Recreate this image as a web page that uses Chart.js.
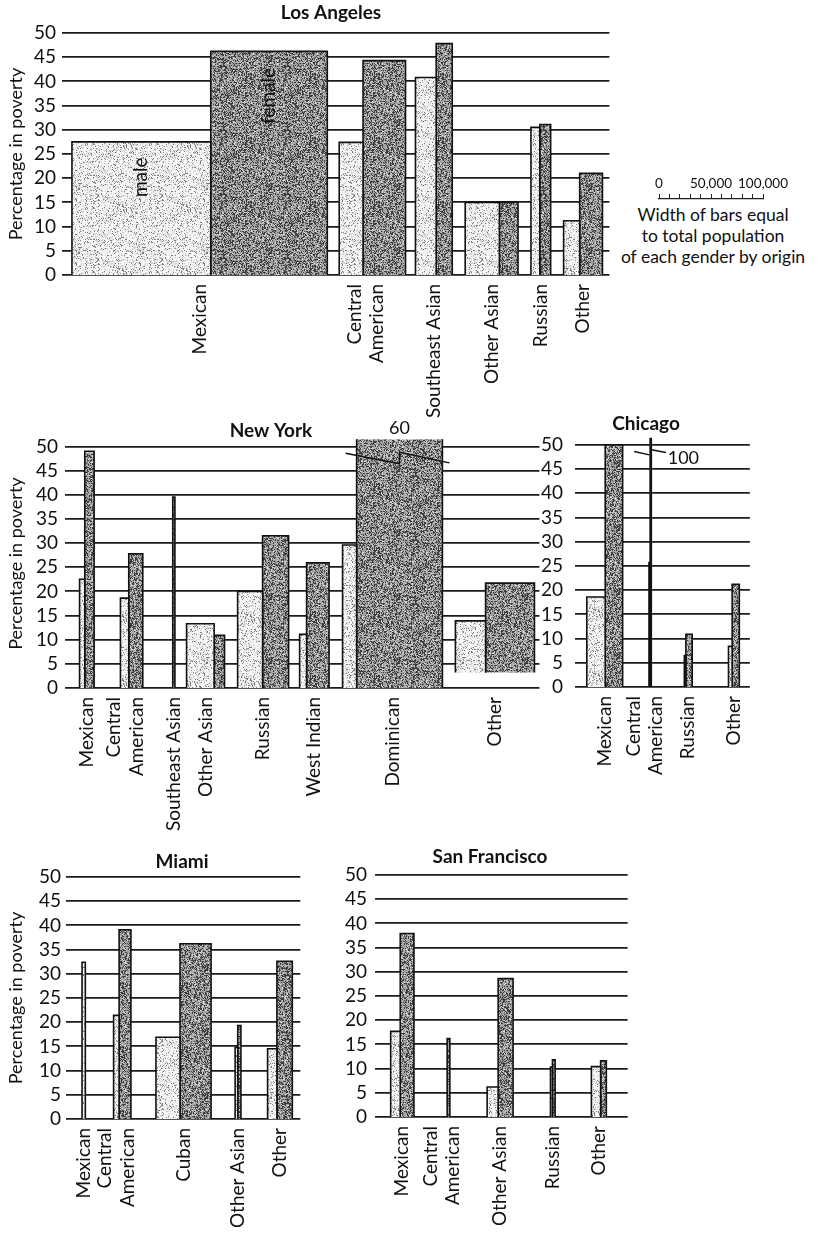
<!DOCTYPE html>
<html>
<head>
<meta charset="utf-8">
<title>Poverty by gender and origin</title>
<script src="https://cdn.jsdelivr.net/npm/chart.js@4.4.1/dist/chart.umd.min.js"></script>
<style>
  html, body { margin: 0; padding: 0; background: #fff; }
  #page { position: relative; width: 822px; height: 1239px; overflow: hidden;
          font-family: Lato, 'DejaVu Sans', sans-serif; color: #111; }
  #page canvas { position: absolute; }
  #keyText { position: absolute; left: 603px; top: 204px; width: 220px; text-align: center;
             font-size: 17.5px; line-height: 21px; }
</style>
</head>
<body>
<div id="page">
  <div id="keyText">Width of bars equal<br>to total population<br>of each gender by origin</div>
</div>
<script>
// Percent in poverty by origin and gender; bar widths are populations in thousands.

// ---- Los Angeles ----
const laOrigins   = [['Mexican'], ['Central', 'American'], ['Southeast Asian'], ['Other Asian'], ['Russian'], ['Other']];
const laMale      = [27.5, 27.4, 40.8, 15, 30.5, 11.2];
const laFemale    = [46.2, 44.3, 47.8, 15, 31.1, 21];
const laMalePop   = [134, 23, 20, 33, 8.5, 15.5];
const laFemalePop = [112.5, 41, 15.5, 18, 10.5, 22];

// ---- New York ----
const nyOrigins   = [['Mexican'], ['Central', 'American'], ['Southeast Asian'], ['Other Asian'], ['Russian'], ['West Indian'], ['Dominican'], ['Other']];
const nyMale      = [22.5, 18.6, null, 13.3, 20, 11.1, 29.6, 13.9];
const nyFemale    = [49, 27.8, 39.5, 10.9, 31.5, 25.9, 60, 21.7];
const nyMalePop   = [5, 8, 0, 26.5, 24, 6.7, 13.5, 29];
const nyFemalePop = [9, 13.5, 2.1, 10, 25, 21.6, 82.5, 47];
const nyBarBase   = [0, 0, 0, 0, 0, 0, 0, 3.2];

// ---- Chicago ----
const chOrigins   = [['Mexican'], ['Central', 'American'], ['Russian'], ['Other']];
const chMale      = [18.6, 25.7, 6.5, 8.4];
const chFemale    = [50, 100, 10.9, 21.2];
const chMalePop   = [19, 1.2, 1.6, 3.8];
const chFemalePop = [18, 1.2, 6.5, 7.4];

// ---- Miami ----
const miOrigins   = [['Mexican'], ['Central', 'American'], ['Cuban'], ['Other Asian'], ['Other']];
const miMale      = [32.4, 21.4, 16.9, 14.8, 14.5];
const miFemale    = [null, 39.1, 36.2, 19.3, 32.6];
const miMalePop   = [3.3, 5.5, 24, 2.6, 9.3];
const miFemalePop = [0, 11.8, 31, 3.2, 15.4];

// ---- San Francisco ----
const sfOrigins   = [['Mexican'], ['Central', 'American'], ['Other Asian'], ['Russian'], ['Other']];
const sfMale      = [17.7, null, 6.2, 10.3, 10.4];
const sfFemale    = [37.9, 16.2, 28.6, 11.8, 11.6];
const sfMalePop   = [9.2, 0, 10.6, 1.9, 8.9];
const sfFemalePop = [13.2, 2.6, 14.4, 2.6, 5.5];

// ---- axis ticks ----
const percentTicks  = [0, 5, 10, 15, 20, 25, 30, 35, 40, 45, 50];
const keyTickValues = [0, 50000, 100000];
const keyTickLabels = ['0', '50,000', '100,000'];
const keyMinorStep  = 10000;

// ---------------------------------------------------------------------------
const PX_PER_THOUSAND = 1.04;   // horizontal pixels per 1,000 people
const PX_PER_POINT    = 4.84;   // vertical pixels per percentage point
const PAD_RIGHT = 3;
const FONT = "Lato, 'DejaVu Sans', sans-serif";

Chart.defaults.font.family = FONT;
Chart.defaults.color = '#111';

// Page layout for each panel (spacing between origin groups in thousands).
const panels = [
  { id: 'la', title: 'Los Angeles', titleAt: [331, 13],
    origins: laOrigins, male: laMale, female: laFemale, malePop: laMalePop, femalePop: laFemalePop,
    gaps: [9.6, 11.5, 9.6, 12.5, 12.5, 12.5, 6.7], yMax: 50,
    left: 0, top: 0, axisW: 62, padTop: 33, axisH: 150, tickPad: 6, yTitle: true,
    notes: [{ group: 0, sex: 'm', text: 'male', at: 20.2 }, { group: 0, sex: 'f', text: 'female', at: 37 }],
    breaks: [] },
  { id: 'ny', title: 'New York', titleAt: [271, 431],
    origins: nyOrigins, male: nyMale, female: nyFemale, malePop: nyMalePop, femalePop: nyFemalePop, base: nyBarBase,
    gaps: [14, 25.3, 28.8, 11.2, 12.6, 10.6, 13, 12.5, 4.8], yMax: 51.5,
    left: 0, top: 410, axisW: 65, padTop: 29.2, axisH: 150, tickPad: 7, yTitle: true,
    notes: [], breaks: [{ group: 6, style: 'above' }] },
  { id: 'ch', title: 'Chicago', titleAt: [646, 424],
    origins: chOrigins, male: chMale, female: chFemale, malePop: chMalePop, femalePop: chFemalePop,
    gaps: [12.2, 27.2, 34.1, 37.5, 10.9], yMax: 51.5,
    left: 540, top: 405, axisW: 35, padTop: 32.7, axisH: 130, tickPad: 12, yTitle: false,
    notes: [], breaks: [{ group: 1, style: 'side' }] },
  { id: 'mi', title: 'Miami', titleAt: [182, 862],
    origins: miOrigins, male: miMale, female: miFemale, malePop: miMalePop, femalePop: miFemalePop,
    gaps: [16, 28.2, 25, 24, 26.6, 8], yMax: 50,
    left: 0, top: 845, axisW: 66, padTop: 32, axisH: 121, tickPad: 5, yTitle: true,
    notes: [], breaks: [] },
  { id: 'sf', title: 'San Francisco', titleAt: [490, 857],
    origins: sfOrigins, male: sfMale, female: sfFemale, malePop: sfMalePop, femalePop: sfFemalePop,
    gaps: [15.1, 32, 35.9, 36, 34.9, 20.5], yMax: 50,
    left: 340, top: 840, axisW: 35, padTop: 35, axisH: 120, tickPad: 8, yTitle: false,
    notes: [], breaks: [] }
];

// Deterministic grain for the stippled fills.
function grain(x, y) {
  let h = Math.imul(x + 17, 374761393) + Math.imul(y + 31, 668265263);
  h = Math.imul(h ^ (h >>> 13), 1274126177);
  h ^= h >>> 16;
  return (h >>> 0) / 4294967296;
}
function stipple(base, dots) {
  const size = 64;
  const c = document.createElement('canvas');
  c.width = c.height = size;
  const g = c.getContext('2d');
  const img = g.createImageData(size, size);
  for (let yy = 0; yy < size; yy++) {
    for (let xx = 0; xx < size; xx++) {
      const n = grain(xx, yy);
      let v = base;
      for (const [limit, tone] of dots) { if (n < limit) { v = tone; break; } }
      const k = (yy * size + xx) * 4;
      img.data[k] = img.data[k + 1] = img.data[k + 2] = v;
      img.data[k + 3] = 255;
    }
  }
  g.putImageData(img, 0, 0);
  return g.createPattern(c, 'repeat');
}
const maleFill   = stipple(246, [[0.12, 125], [0.32, 205]]);
const femaleFill = stipple(162, [[0.38, 62], [0.52, 212]]);

function barDataset(x0, x1, value, base, fill) {
  return {
    data: [{ x: x0, y: base }, { x: x0, y: value }, { x: x1, y: value }, { x: x1, y: base }],
    fill: { value: base },
    backgroundColor: fill,
    borderColor: '#111',
    borderWidth: 1.6,
    borderJoinStyle: 'miter',
    pointRadius: 0,
    tension: 0
  };
}

const panelMeta = new Map();

// Titles, in-bar labels and break marks for values above the axis.
const decor = {
  id: 'decor',
  afterDatasetsDraw(chart) {
    const m = panelMeta.get(chart.canvas.id);
    if (!m) return;
    const { ctx, chartArea: ca } = chart;
    const xs = chart.scales.x, ys = chart.scales.y;
    const py = v => ys.getPixelForValue(v);
    ctx.save();
    ctx.fillStyle = '#111';
    ctx.strokeStyle = '#111';
    ctx.textBaseline = 'middle';

    ctx.font = '19px ' + FONT;
    ctx.textAlign = 'center';
    for (const n of m.notes) {
      const g = m.groups[n.group];
      const xc = n.sex === 'm' ? (g.x0 + g.xm) / 2 : (g.xm + g.x1) / 2;
      ctx.save();
      ctx.translate(xs.getPixelForValue(xc), py(n.at));
      ctx.rotate(-Math.PI / 2);
      ctx.fillText(n.text, 0, 0);
      ctx.restore();
    }

    for (const b of m.breaks) {
      const g = m.groups[b.group];
      const L = xs.getPixelForValue(g.xm), R = xs.getPixelForValue(g.x1), C = (L + R) / 2;
      const label = String(m.female[b.group]);
      ctx.lineWidth = 1.5;
      ctx.font = '18px ' + FONT;
      if (b.style === 'above') {
        ctx.beginPath();
        ctx.moveTo(L - 11, py(48.6));
        ctx.lineTo(C, py(46.4));
        ctx.lineTo(C, py(48.8));
        ctx.lineTo(R + 7, py(46.6));
        ctx.stroke();
        ctx.textAlign = 'center';
        ctx.fillText(label, C, ca.top - 11);
      } else {
        ctx.beginPath();
        ctx.moveTo(C - 16.5, py(48.65));
        ctx.lineTo(C - 1.5, py(47.95));
        ctx.moveTo(C + 0.8, py(49));
        ctx.lineTo(C + 15.2, py(48.45));
        ctx.stroke();
        ctx.textAlign = 'left';
        ctx.fillText(label, C + 17, py(47.3));
      }
    }

    ctx.font = 'bold 19px ' + FONT;
    ctx.textAlign = 'center';
    ctx.fillText(m.title, m.titleAt[0] - m.left, m.titleAt[1] - m.top);
    ctx.restore();
  }
};

function buildPanel(p) {
  // lay the groups out along the population axis
  let x = 0;
  const groups = [];
  p.origins.forEach((lab, i) => {
    x += p.gaps[i];
    const g = { x0: x };
    x += p.malePop[i]; g.xm = x;
    x += p.femalePop[i]; g.x1 = x;
    groups.push(g);
  });
  const xMax = x + p.gaps[p.gaps.length - 1];

  const datasets = [];
  groups.forEach((g, i) => {
    const base = p.base ? p.base[i] : 0;
    if (p.malePop[i] > 0 && p.male[i] != null) datasets.push(barDataset(g.x0, g.xm, p.male[i], base, maleFill));
    if (p.femalePop[i] > 0 && p.female[i] != null) datasets.push(barDataset(g.xm, g.x1, p.female[i], base, femaleFill));
  });

  // category label positions: first line of a two-line label sits left of the group centre
  const tickValues = groups.map((g, i) => (g.x0 + g.x1) / 2 - (p.origins[i].length - 1) * 18 / PX_PER_THOUSAND);

  const areaW = xMax * PX_PER_THOUSAND;
  const areaH = p.yMax * PX_PER_POINT;
  const canvas = document.createElement('canvas');
  canvas.id = 'panel-' + p.id;
  canvas.width = Math.round(p.axisW + areaW + PAD_RIGHT);
  canvas.height = Math.round(p.padTop + areaH + p.axisH);
  canvas.style.left = p.left + 'px';
  canvas.style.top = p.top + 'px';
  document.getElementById('page').appendChild(canvas);

  panelMeta.set(canvas.id, { ...p, groups });

  new Chart(canvas, {
    type: 'line',
    data: { datasets },
    options: {
      responsive: false,
      animation: false,
      events: [],
      layout: { padding: { top: p.padTop, left: 0, right: canvas.width - p.axisW - areaW, bottom: 0 } },
      plugins: { legend: { display: false }, tooltip: { enabled: false } },
      scales: {
        x: {
          type: 'linear', min: 0, max: xMax,
          grid: { display: false, drawTicks: false },
          border: { display: false },
          afterBuildTicks: s => { s.ticks = tickValues.map(v => ({ value: v })); },
          afterFit: s => { s.height = p.axisH; },
          ticks: {
            autoSkip: false, maxRotation: 90, minRotation: 90, padding: 9,
            color: '#111', font: { size: 19 },
            callback: (v, i) => p.origins[i]
          }
        },
        y: {
          min: 0, max: p.yMax,
          afterFit: s => { s.width = p.axisW; },
          afterBuildTicks: s => { s.ticks = percentTicks.map(v => ({ value: v })); },
          grid: { color: '#1c1c1c', lineWidth: 1.8, drawTicks: false },
          border: { display: false },
          ticks: { autoSkip: false, padding: p.tickPad, color: '#111', font: { size: 19 } },
          title: { display: p.yTitle, text: 'Percentage in poverty', color: '#111',
                   font: { size: 18 }, padding: { top: 5, bottom: 0 } }
        }
      }
    },
    plugins: [decor]
  });
}

function buildKey() {
  const canvas = document.createElement('canvas');
  canvas.id = 'width-key';
  canvas.width = 163;
  canvas.height = 26;
  canvas.style.left = '630px';
  canvas.style.top = '177px';
  document.getElementById('page').appendChild(canvas);
  const minor = [];
  for (let v = keyTickValues[0]; v <= keyTickValues[keyTickValues.length - 1]; v += keyMinorStep) minor.push(v);
  new Chart(canvas, {
    type: 'line',
    data: { datasets: [] },
    options: {
      responsive: false, animation: false, events: [],
      layout: { padding: { left: 29, right: 30, top: 0, bottom: 0 } },
      plugins: { legend: { display: false }, tooltip: { enabled: false } },
      scales: {
        x: {
          type: 'linear', position: 'top',
          min: keyTickValues[0], max: keyTickValues[keyTickValues.length - 1],
          afterBuildTicks: s => { s.ticks = minor.map(v => ({ value: v })); },
          afterFit: s => { s.height = 22; },
          grid: { drawOnChartArea: false, drawTicks: true, tickLength: 5, color: '#222', lineWidth: 1 },
          border: { display: true, color: '#222', width: 1.2 },
          ticks: {
            autoSkip: false, maxRotation: 0, padding: 2, color: '#111', font: { size: 13.5 },
            callback: v => { const k = keyTickValues.indexOf(v); return k >= 0 ? keyTickLabels[k] : ''; }
          }
        },
        y: { display: false, min: 0, max: 1 }
      }
    }
  });
}

function drawAll() {
  panels.forEach(buildPanel);
  buildKey();
}
if (document.fonts && document.fonts.load) {
  Promise.all([document.fonts.load('18px Lato'), document.fonts.load('bold 19px Lato')])
    .then(drawAll, drawAll);
} else {
  drawAll();
}
</script>
</body>
</html>
